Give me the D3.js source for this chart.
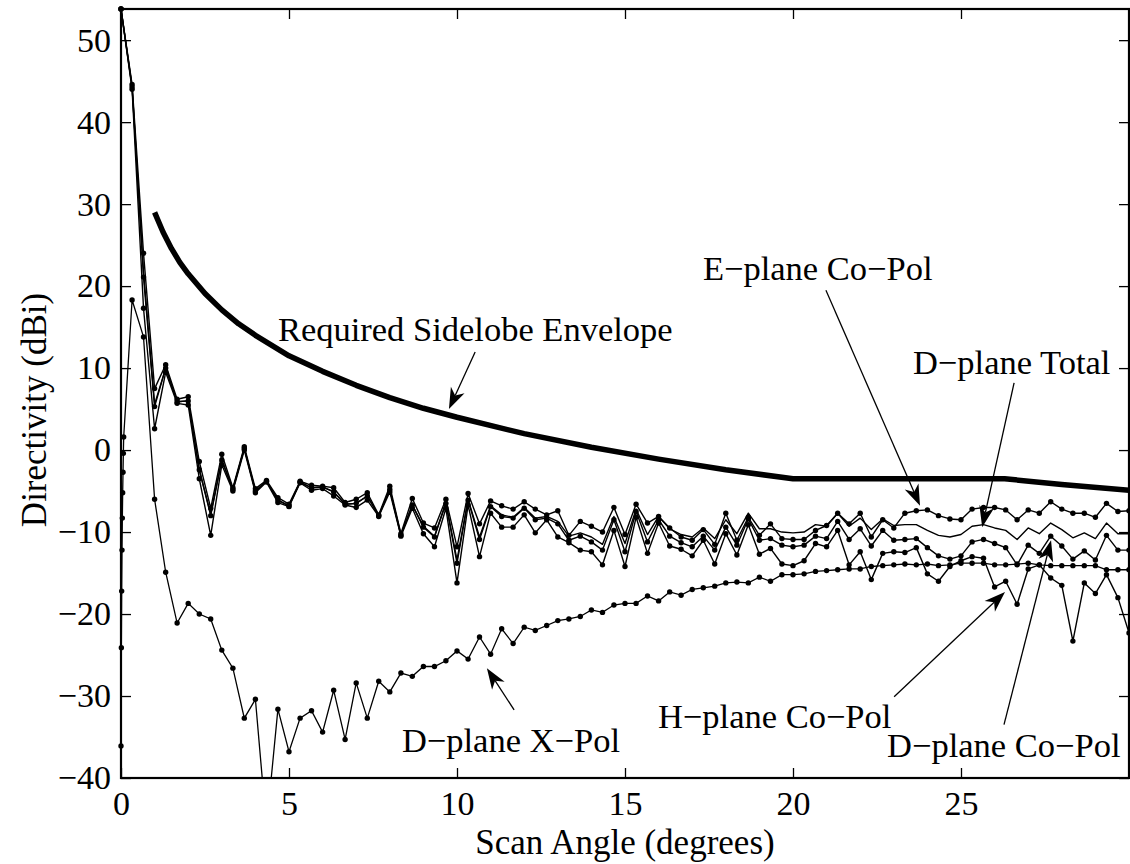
<!DOCTYPE html>
<html><head><meta charset="utf-8">
<script src="https://cdn.jsdelivr.net/npm/d3@7"></script>
<style>
body{margin:0;background:#fff}
svg{display:block}
text{font-family:"Liberation Serif","Times New Roman",Times,serif;fill:#000}
</style>
</head><body>
<svg id="chart" width="1130" height="864"></svg>
<script>
// ---------------- data ----------------
const angles = [0,0.33,0.67,1,1.33,1.67,2,2.33,2.67,3,3.33,3.67,4,4.33,4.67,5,5.33,5.67,6,6.33,6.67,7,7.33,7.67,8,8.33,8.67,9,9.33,9.67,10,10.33,10.67,11,11.33,11.67,12,12.33,12.67,13,13.33,13.67,14,14.33,14.67,15,15.33,15.67,16,16.33,16.67,17,17.33,17.67,18,18.33,18.67,19,19.33,19.67,20,20.33,20.67,21,21.33,21.67,22,22.33,22.67,23,23.33,23.67,24,24.33,24.67,25,25.33,25.67,26,26.33,26.67,27,27.33,27.67,28,28.33,28.67,29,29.33,29.67,30];

const ePlaneCoPol = [53.8,44.6,24.0,7.5,10.4,6.2,6.5,-1.4,-7.1,-0.5,
 -4.6,0.4,-4.7,-3.7,-5.8,-6.6,-3.8,-4.3,-4.4,-4.6,
 -6.4,-6.0,-5.2,-7.9,-4.4,-10.2,-5.9,-8.9,-9.5,-6.0,
 -11.8,-5.3,-9.0,-6.2,-6.8,-7.2,-6.3,-7.2,-7.9,-7.4,
 -10.4,-8.7,-9.3,-10.0,-7.0,-10.3,-6.6,-8.9,-8.1,-9.5,
 -10.6,-11.0,-9.7,-11.5,-7.7,-11.0,-8.2,-10.4,-9.0,-10.8,
 -10.9,-10.9,-9.8,-9.2,-7.7,-9.0,-7.7,-10.6,-8.5,-9.5,
 -7.7,-7.4,-7.3,-8.0,-8.4,-8.5,-7.2,-7.0,-7.0,-7.3,
 -8.5,-7.3,-7.7,-6.3,-7.2,-7.7,-7.7,-8.2,-6.5,-7.5,-7.4];

const dPlaneCoPol = [53.8,44.3,21.1,5.3,10.0,5.9,6.0,-2.4,-8.0,-1.2,
 -4.8,0.2,-5.0,-3.8,-6.1,-6.8,-3.9,-4.6,-4.5,-5.1,
 -6.6,-6.5,-5.6,-8.0,-4.8,-10.4,-6.7,-9.4,-10.6,-6.5,
 -13.8,-6.1,-10.9,-6.9,-8.1,-8.3,-7.1,-8.5,-8.3,-9.0,
 -11.0,-10.5,-11.2,-12.2,-8.5,-12.4,-7.5,-11.2,-8.5,-10.5,
 -11.3,-11.8,-10.5,-12.2,-9.4,-11.6,-8.4,-11.0,-10.8,-11.6,
 -11.8,-11.6,-10.5,-10.8,-8.7,-10.9,-9.6,-11.7,-9.8,-11.0,
 -10.9,-10.8,-11.9,-12.9,-13.3,-12.9,-11.2,-10.9,-11.4,-11.9,
 -14.0,-11.6,-12.6,-10.5,-11.7,-13.3,-12.3,-13.4,-10.4,-12.2,-12.2];

const hPlaneCoPol = [53.8,44.0,17.3,2.6,9.5,5.7,5.5,-3.5,-10.4,-1.8,
 -5.0,0.0,-5.2,-3.9,-6.4,-6.9,-4.0,-4.9,-4.7,-5.6,
 -6.7,-7.0,-6.1,-8.1,-5.1,-10.5,-7.1,-10.2,-11.8,-7.1,
 -16.2,-6.7,-13.0,-7.7,-9.4,-9.4,-7.9,-10.1,-8.5,-10.6,
 -11.3,-12.2,-12.4,-14.0,-9.8,-14.2,-8.2,-12.6,-8.9,-11.7,
 -12.1,-12.9,-11.0,-13.9,-10.2,-12.8,-9.1,-12.7,-12.0,-13.9,
 -14.1,-13.5,-11.4,-11.8,-9.8,-14.0,-12.4,-15.8,-12.6,-12.4,
 -12.5,-11.9,-15.1,-16.0,-14.2,-13.5,-13.0,-13.2,-16.7,-16.0,
 -18.8,-14.5,-14.0,-15.6,-16.5,-23.3,-16.2,-17.5,-15.2,-18.0,-22.3];

const dPlaneTotal = [53.8,44.3,21.8,5.6,10.0,5.9,6.0,-2.4,-7.8,-1.2,
 -4.8,0.2,-5.0,-3.8,-6.1,-6.8,-3.9,-4.6,-4.5,-5.1,
 -6.6,-6.5,-5.6,-8.0,-4.8,-10.3,-6.7,-9.3,-10.5,-6.4,
 -13.4,-6.0,-10.6,-6.8,-7.9,-8.2,-7.0,-8.3,-8.1,-8.7,
 -10.5,-10.1,-10.6,-11.5,-8.1,-11.4,-7.2,-10.3,-8.1,-9.6,
 -10.3,-10.6,-9.5,-10.8,-8.5,-10.2,-7.7,-9.6,-9.6,-10.0,
 -10.1,-10.0,-9.1,-9.3,-7.7,-9.3,-8.3,-9.7,-8.4,-9.2,
 -9.1,-9.1,-9.8,-10.4,-10.6,-10.3,-9.3,-9.1,-9.5,-9.8,
 -10.9,-9.5,-10.2,-8.9,-9.7,-10.7,-10.1,-10.8,-8.9,-10.2,-10.2];

// D-plane X-Pol: finely sampled samples at broadside, then the regular grid from 0.33 deg
const xPolBroadsideAngles = [0,0.01,0.02,0.03,0.04,0.05,0.06,0.07,0.08];
const xPolBroadside = [-36.1,-24.1,-17.2,-12.2,-8.3,-5.2,-2.7,-0.4,1.6];
const dPlaneXPol = [null,18.3,13.8,-6.0,-14.9,-21.1,-18.7,-20.0,-20.6,-24.4,
 -26.6,-32.7,-30.4,-46.0,-31.6,-36.8,-32.7,-31.8,-34.4,-29.3,
 -35.3,-28.4,-32.7,-28.2,-29.5,-27.2,-27.6,-26.4,-26.4,-25.7,
 -24.5,-25.5,-22.8,-24.9,-21.8,-23.6,-21.6,-22.0,-21.4,-20.8,
 -20.6,-20.3,-19.5,-19.8,-18.9,-18.7,-18.7,-17.8,-18.4,-17.3,
 -17.7,-17.0,-16.8,-16.6,-16.2,-16.1,-16.2,-15.5,-16.0,-15.2,
 -15.2,-15.1,-14.8,-14.7,-14.6,-14.5,-14.5,-14.2,-14.1,-14.0,
 -13.9,-14.0,-13.9,-14.1,-14.0,-13.8,-13.8,-13.8,-14.0,-14.0,
 -13.9,-13.8,-14.0,-14.1,-14.1,-14.1,-14.1,-14.1,-14.6,-14.6,-14.6];

// Required sidelobe envelope (read points)
const envAngles = [1,1.25,1.5,1.75,2,2.5,3,3.5,4,5,6,7,8,9,10,12,14,16,18,20,26.3,28,30];
const envValues = [29.0,26.6,24.6,22.9,21.5,19.1,17.1,15.4,14.0,11.5,9.6,7.9,6.4,5.1,4.0,2.0,0.35,-1.1,-2.4,-3.5,-3.5,-4.2,-4.9];

const xTicks = [0,5,10,15,20,25];
const yTicks = [-40,-30,-20,-10,0,10,20,30,40,50];
const xDomain = [0,30];
const yDomain = [-40,53.8];

const xLabel = "Scan Angle (degrees)";
const yLabel = "Directivity (dBi)";

// annotations: label, text anchor point (data units), arrow tail and tip (data units)
const annLabels = ["Required Sidelobe Envelope","E\u2212plane Co\u2212Pol","D\u2212plane Total","H\u2212plane Co\u2212Pol","D\u2212plane Co\u2212Pol","D\u2212plane X\u2212Pol"];
const annTextX = [4.67,17.32,23.57,15.98,22.80,8.36];
const annTextY = [13.3,20.7,9.3,-33.9,-37.45,-36.85];
const annTailX = [10.54,20.98,26.58,23.01,26.28,11.70];
const annTailY = [11.95,19.5,8.2,-30.1,-33.5,-31.7];
const annTipX  = [9.76,23.78,25.63,26.31,27.68,10.89];
const annTipY  = [5.0,-6.8,-9.4,-17.3,-11.0,-26.6];

// ---------------- layout ----------------
const svg = d3.select("#chart");
const L = 121, R = 1129, T = 9, B = 778;
const x = d3.scaleLinear().domain(xDomain).range([L, R]);
const y = d3.scaleLinear().domain(yDomain).range([B, T]);
const FS = 34;
const FS_ANN = 34.5;
const FS_LAB = 35;

svg.append("defs").append("clipPath").attr("id","plotclip")
  .append("rect").attr("x",L).attr("y",T).attr("width",R-L).attr("height",B-T);

const plot = svg.append("g").attr("clip-path","url(#plotclip)");
const marks = svg.append("g");

const line = d3.line().defined(d => d[1] !== null).x(d => x(d[0])).y(d => y(d[1]));

function pairs(xs, ys){ return xs.map((a,i)=>[a, ys[i]]); }

// envelope
plot.append("path").datum(pairs(envAngles, envValues))
  .attr("d", line).attr("fill","none").attr("stroke","#000")
  .attr("stroke-width",5.5).attr("stroke-linejoin","round");

// X-pol
const xpolData = pairs(xPolBroadsideAngles, xPolBroadside)
  .concat(pairs(angles, dPlaneXPol).filter(d => d[1] !== null));
plot.append("path").datum(xpolData).attr("d", line)
  .attr("fill","none").attr("stroke","#000").attr("stroke-width",1.3);

// co-pol series
const dotted = [ePlaneCoPol, dPlaneCoPol, hPlaneCoPol];
dotted.forEach(s => {
  plot.append("path").datum(pairs(angles, s)).attr("d", line)
    .attr("fill","none").attr("stroke","#000").attr("stroke-width",1.4)
    .attr("stroke-linejoin","round");
});
plot.append("path").datum(pairs(angles, dPlaneTotal)).attr("d", line)
  .attr("fill","none").attr("stroke","#000").attr("stroke-width",1.4)
  .attr("stroke-linejoin","round");

// markers
function inside(d){ return d[1] !== null && d[1] >= yDomain[0] && d[1] <= yDomain[1] + 0.5; }
dotted.forEach(s => {
  marks.selectAll(null).data(pairs(angles, s).filter(inside)).enter()
    .append("circle").attr("cx", d => x(d[0])).attr("cy", d => y(d[1]))
    .attr("r", 2.7).attr("fill","#000");
});
marks.selectAll(null).data(xpolData.filter(inside)).enter()
  .append("circle").attr("cx", d => x(d[0])).attr("cy", d => y(d[1]))
  .attr("r", 2.7).attr("fill","#000");

// ---------------- axes ----------------
const ax = svg.append("g");
const fmt = d3.format("d");
const gL = ax.append("g").attr("transform",`translate(${L},0)`)
  .call(d3.axisLeft(y).tickValues(yTicks).tickSize(-10).tickPadding(10).tickFormat(fmt));
const gR = ax.append("g").attr("transform",`translate(${R},0)`)
  .call(d3.axisRight(y).tickValues(yTicks).tickSize(-10).tickFormat(""));
const gB = ax.append("g").attr("transform",`translate(0,${B})`)
  .call(d3.axisBottom(x).tickValues(xTicks).tickSize(-10).tickPadding(13).tickFormat(fmt));
const gT = ax.append("g").attr("transform",`translate(0,${T})`)
  .call(d3.axisTop(x).tickValues(xTicks).tickSize(-10).tickFormat(""));
[gL,gR,gB,gT].forEach(g => {
  g.select(".domain").remove();
  g.selectAll(".tick line").attr("stroke","#000").attr("stroke-width",1.3);
  g.selectAll(".tick text").attr("font-size",FS).attr("fill","#000")
    .style("font-family",'"Liberation Serif","Times New Roman",serif');
});
ax.append("rect").attr("x",L).attr("y",T).attr("width",R-L).attr("height",B-T)
  .attr("fill","none").attr("stroke","#000").attr("stroke-width",2.2);

svg.append("text").attr("x",(L+R)/2).attr("y",854).attr("text-anchor","middle")
  .attr("font-size",FS_LAB).text(xLabel);
svg.append("text").attr("transform","translate(46,410) rotate(-90)")
  .attr("text-anchor","middle").attr("font-size",FS_LAB).text(yLabel);

// ---------------- annotations ----------------
const ann = svg.append("g");
annLabels.forEach((lab,i) => {
  ann.append("text").attr("x", x(annTextX[i])).attr("y", y(annTextY[i]))
    .attr("font-size",FS_ANN).text(lab);
  const x0 = x(annTailX[i]), y0 = y(annTailY[i]), x1 = x(annTipX[i]), y1 = y(annTipY[i]);
  const a = Math.atan2(y1-y0, x1-x0);
  const len = 21, hw = 7.5, notch = 6;
  const ux = Math.cos(a), uy = Math.sin(a), px = -uy, py = ux;
  const bx = x1 - ux*len, by = y1 - uy*len;
  ann.append("line").attr("x1",x0).attr("y1",y0)
    .attr("x2",x1 - ux*(len-notch)).attr("y2",y1 - uy*(len-notch))
    .attr("stroke","#000").attr("stroke-width",1.3);
  const pts = [[x1,y1],[bx+px*hw,by+py*hw],[x1-ux*(len-notch),y1-uy*(len-notch)],[bx-px*hw,by-py*hw]];
  ann.append("path").attr("d","M"+pts.map(p=>p.join(",")).join("L")+"Z").attr("fill","#000");
});
</script>
</body></html>
